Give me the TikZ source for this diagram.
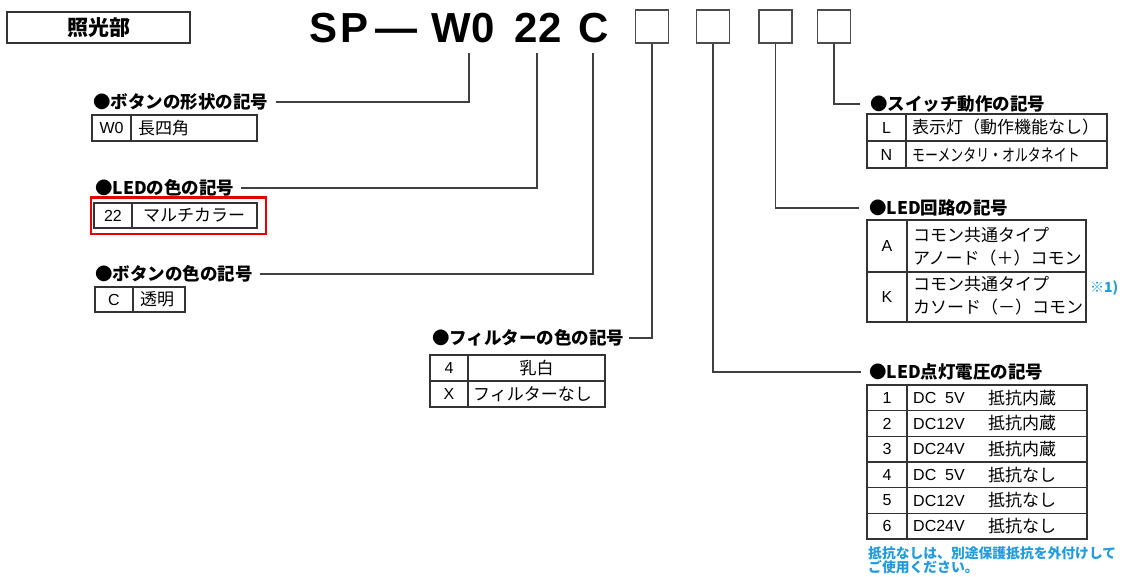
\documentclass[tikz,border=0pt]{standalone}
\usepackage{fontspec}
\usepackage{graphicx}
\setmainfont{Noto Sans CJK JP}
\newfontfamily\lat{Liberation Sans}
\definecolor{noteblue}{RGB}{35,155,220}
\definecolor{hlred}{RGB}{230,0,0}
\begin{document}
\begin{tikzpicture}[x=1pt,y=-1pt,
  lbl/.style={font=\bfseries\fontsize{17.5}{20}\selectfont, anchor=west, inner sep=0pt},
  cell/.style={font=\fontsize{17}{20}\selectfont, inner sep=0pt},
  lcell/.style={font=\lat\fontsize{16}{20}\selectfont, inner sep=0pt},
  ttl/.style={font=\lat\bfseries\fontsize{42}{48}\selectfont, inner sep=0pt, anchor=base},
  tab/.style={draw=black!80, line width=1.5pt},
  conn/.style={draw=black!75, line width=1.3pt},
  sbox/.style={draw=black!70, line width=1.5pt, minimum width=33pt, minimum height=33pt, inner sep=0pt},
  note/.style={font=\bfseries\fontsize{13.8}{15}\selectfont, text=noteblue, anchor=west, inner sep=0pt}]
\useasboundingbox (0,0) rectangle (1131,576);

% header box
\node[draw=black!80, line width=1.5pt, minimum width=183pt, minimum height=31pt, inner sep=0pt,
  font=\bfseries\fontsize{21}{24}\selectfont] (part) at (98.5,27.5) {照光部};

% title
\node[ttl] (tSP) at (339,42) {S\kern3pt P};
\node[ttl] (tDash) at (396,42) {—};
\node[ttl] (tW0) at (463,42) {W0};
\node[ttl] (t22) at (538,42) {22};
\node[ttl] (tC) at (594,42) {C};
\node[sbox] (b1) at (652,26.5) {};
\node[sbox] (b2) at (713,26.5) {};
\node[sbox] (b3) at (775.5,26.5) {};
\node[sbox] (b4) at (834,26.5) {};
\coordinate (w0s) at (469,53);
\coordinate (s22) at (537,53);
\coordinate (sC) at (593,53);

% labels
\node[lbl] (lShape) at (93,102) {●ボタンの形状の記号};
\node[lbl] (lLED) at (95,188) {●LEDの色の記号};
\node[lbl] (lBtn) at (95,274) {●ボタンの色の記号};
\node[lbl] (lFil) at (432,338) {●フィルターの色の記号};
\node[lbl] (lSw) at (870,104) {●スイッチ動作の記号};
\node[lbl] (lCir) at (869,208) {●LED回路の記号};
\node[lbl] (lVol) at (869,372) {●LED点灯電圧の記号};

% connectors
\draw[conn] (w0s) |- ([xshift=8pt]lShape.east);
\draw[conn] (s22) |- ([xshift=6pt]lLED.east);
\draw[conn] (sC) |- ([xshift=7pt]lBtn.east);
\draw[conn] (b1.south) |- ([xshift=4pt]lFil.east);
\draw[conn] (b2.south) |- ([xshift=-8pt]lVol.west);
\draw[conn] (b3.south) |- ([xshift=-10pt]lCir.west);
\draw[conn] (b4.south) |- ([xshift=-10pt]lSw.west);

% W0 table
\draw[tab] (92,115) rectangle (257,141);
\draw[tab] (131,115) -- (131,141);
\node[lcell] (cW0) at (111.5,128) {W0};
\node[cell, anchor=west] (cW0t) at (138,128) {長四角};

% 22 table
\draw[tab] (94,203) rectangle (257,228);
\draw[tab] (132,203) -- (132,228);
\node[lcell] (c22) at (113,215.5) {22};
\node[cell, anchor=west] (c22t) at (143,215.5) {マルチカラー};
\draw[draw=hlred, line width=2.5pt] (91,197.5) rectangle (266,234);

% C table
\draw[tab] (95,287) rectangle (185,312);
\draw[tab] (133,287) -- (133,312);
\node[lcell] (cC) at (114,299.5) {C};
\node[cell, anchor=west] (cCt) at (140,299.5) {透明};

% filter table
\draw[tab] (430,355) rectangle (605,407);
\draw[tab] (430,381) -- (605,381);
\draw[tab] (468,355) -- (468,407);
\node[lcell] (f4) at (449,368) {4};
\node[cell] (f4t) at (536.5,368) {乳白};
\node[lcell] (fX) at (449,394) {X};
\node[cell, anchor=west] (fXt) at (473,394) {フィルターなし};

% switch table
\draw[tab] (867,114) rectangle (1107,168);
\draw[tab] (867,141) -- (1107,141);
\draw[tab] (906,114) -- (906,168);
\node[lcell] (sL) at (886.5,127.5) {L};
\node[cell, anchor=west] (sLt) at (912,127.5) {表示灯（動作機能なし）};
\node[lcell] (sN) at (886.5,154.5) {N};
\node[cell, anchor=west] (sNt) at (912,154.5) {\scalebox{0.76}[1]{モーメンタリ・オルタネイト}};

% circuit table
\draw[tab] (867,220) rectangle (1086,322);
\draw[tab] (867,272) -- (1086,272);
\draw[tab] (907,220) -- (907,322);
\node[lcell] (cA) at (887,246) {A};
\node[cell, anchor=west] (cA1) at (913,235) {コモン共通タイプ};
\node[cell, anchor=west] (cA2) at (913,258) {アノード（＋）コモン};
\node[lcell] (cK) at (887,297) {K};
\node[cell, anchor=west] (cK1) at (913,284) {コモン共通タイプ};
\node[cell, anchor=west] (cK2) at (913,307) {カソード（－）コモン};
\node[font=\bfseries\fontsize{14}{15}\selectfont, text=noteblue, anchor=west, inner sep=0pt] (n1) at (1090,288) {※1)};

% voltage table
\draw[tab] (867,385) rectangle (1087,539);
\foreach \i in {1,...,5} {\draw[tab] (867,385+25.67*\i) -- (1087,385+25.67*\i);}
\draw[tab] (907,385) -- (907,539);
\foreach \n/\v/\r [count=\k] in {1/DC\phantom{1}5V/抵抗内蔵, 2/DC12V/抵抗内蔵, 3/DC24V/抵抗内蔵, 4/DC\phantom{1}5V/抵抗なし, 5/DC12V/抵抗なし, 6/DC24V/抵抗なし} {
  \node[lcell] (vn\k) at (887,385+25.67*\k-12.83) {\n};
  \node[lcell, anchor=west] (vv\k) at (913,385+25.67*\k-12.83) {\v};
  \node[cell, anchor=west] (vr\k) at (988,385+25.67*\k-12.83) {\r};
}

% note
\node[note] (note1) at (868,553.5) {抵抗なしは、別途保護抵抗を外付けして};
\node[note] (note2) at (868,567.5) {ご使用ください。};
\end{tikzpicture}
\end{document}
